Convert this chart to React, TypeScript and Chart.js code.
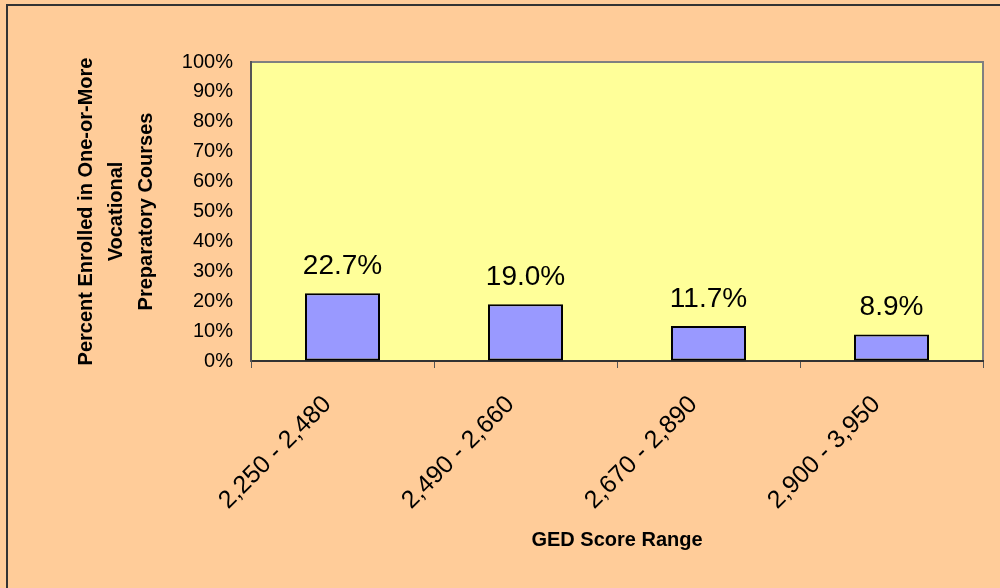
import React, { useEffect, useRef } from "react";
import { Chart, registerables } from "chart.js";

Chart.register(...registerables);

const categories = ["2,250 - 2,480", "2,490 - 2,660", "2,670 - 2,890", "2,900 - 3,950"];
const percentEnrolled = [22.7, 19.0, 11.7, 8.9];
const yTitle = ["Percent Enrolled in One-or-More", "Vocational", "Preparatory Courses"];
const xTitle = "GED Score Range";

const FONT = "'Liberation Sans', Arial, Helvetica, sans-serif";

const backgroundPlugin = {
  id: "bgPlugin",
  beforeDraw(chart: any) {
    const { ctx, width, height, chartArea } = chart;
    ctx.save();
    ctx.fillStyle = "#FFCC99";
    ctx.fillRect(0, 0, width, height);
    ctx.strokeStyle = "#333333";
    ctx.lineWidth = 2;
    ctx.strokeRect(7, 5, width + 20, height + 20);
    ctx.fillStyle = "#FFFF99";
    ctx.fillRect(chartArea.left, chartArea.top, chartArea.right - chartArea.left, chartArea.bottom - chartArea.top);
    ctx.strokeStyle = "#808080";
    ctx.lineWidth = 2;
    ctx.strokeRect(chartArea.left, chartArea.top, chartArea.right - chartArea.left, chartArea.bottom - chartArea.top);
    ctx.restore();
  },
};

const labelPlugin = {
  id: "valueLabels",
  afterDatasetsDraw(chart: any) {
    const { ctx } = chart;
    const meta = chart.getDatasetMeta(0);
    ctx.save();
    ctx.fillStyle = "#000000";
    ctx.font = `28px ${FONT}`;
    ctx.textAlign = "center";
    ctx.textBaseline = "alphabetic";
    meta.data.forEach((bar: any, i: number) => {
      const v = chart.data.datasets[0].data[i] as number;
      ctx.fillText(v.toFixed(1) + "%", bar.x, bar.y - 19);
    });
    ctx.restore();
  },
};

export default function App() {
  const ref = useRef<HTMLCanvasElement | null>(null);
  useEffect(() => {
    if (!ref.current) return;
    const chart = new Chart(ref.current, {
      type: "bar",
      data: {
        labels: categories,
        datasets: [
          {
            data: percentEnrolled,
            backgroundColor: "#9999FF",
            borderColor: "#000000",
            borderWidth: 2,
            borderSkipped: false,
            categoryPercentage: 1,
            barPercentage: 0.41,
          },
        ],
      },
      options: {
        responsive: false,
        animation: false,
        layout: { padding: { left: 0, top: 62, right: 17, bottom: 0 } },
        plugins: {
          legend: { display: false },
          tooltip: { enabled: false },
          title: { display: false },
        },
        scales: {
          x: {
            type: "category",
            offset: true,
            afterFit: (s: any) => {
              s.height = 227;
            },
            grid: {
              offset: true,
              drawOnChartArea: false,
              drawTicks: true,
              tickLength: 7,
              color: "#555555",
              lineWidth: 1,
            },
            border: { display: true, color: "#333333", width: 2 },
            ticks: {
              color: "#000000",
              font: { family: FONT, size: 25 },
              maxRotation: 45,
              minRotation: 45,
              autoSkip: false,
              padding: 22,
              labelOffset: -15,
            },
            title: {
              display: true,
              text: xTitle,
              color: "#000000",
              font: { family: FONT, size: 20, weight: "bold", lineHeight: 1.2 },
              padding: { top: 0, bottom: 36 },
            },
          },
          y: {
            min: 0,
            max: 100,
            afterFit: (s: any) => {
              s.width = 251;
            },
            grid: { drawOnChartArea: false, drawTicks: false },
            border: { display: true, color: "#555555", width: 2 },
            ticks: {
              stepSize: 10,
              color: "#000000",
              font: { family: FONT, size: 20 },
              padding: 18,
              callback: (v: any) => v + "%",
            },
            title: {
              display: true,
              text: yTitle,
              color: "#000000",
              font: { family: FONT, size: 20, weight: "bold", lineHeight: 1.5 },
              padding: { top: 71, bottom: 0 },
            },
          },
        },
      },
      plugins: [backgroundPlugin, labelPlugin],
    });
    return () => chart.destroy();
  }, []);
  return (
    <div style={{ position: "fixed", left: 0, top: 0, width: 1000, height: 588 }}>
      <canvas ref={ref} width={1000} height={588} style={{ display: "block" }} />
    </div>
  );
}
